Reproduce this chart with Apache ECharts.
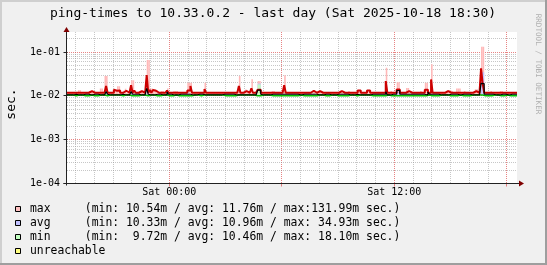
<!DOCTYPE html>
<html><head><meta charset="utf-8">
<script src="https://cdn.jsdelivr.net/npm/echarts@6/dist/echarts.min.js"></script>
<style>html,body{margin:0;padding:0;background:#f0f0f0}#c{width:547px;height:265px}</style>
</head><body><div id="c"></div><script>
// ---------- text ----------
const titleText = 'ping-times to 10.33.0.2 - last day (Sat 2025-10-18 18:30)';
const yUnitText = 'sec.';
const watermarkText = 'RRDTOOL / TOBI OETIKER';
const yTickLabels = ['1e-04', '1e-03', '1e-02', '1e-01'];
const xTickHours = [0, 12];
const xTickLabels = ['Sat 00:00', 'Sat 12:00'];
const legendLines = [
  'max     (min: 10.54m / avg: 11.76m / max:131.99m sec.)',
  'avg     (min: 10.33m / avg: 10.96m / max: 34.93m sec.)',
  'min     (min:  9.72m / avg: 10.46m / max: 18.10m sec.)',
  'unreachable'
];
const legendColors = ['#ffc0c0', '#c0c0ff', '#c0ffc0', '#ffff80'];

// ---------- time base (hours relative to Sat 00:00), 5-minute steps ----------
const startHour = -5.456;
const stepHours = 5 / 60;

// ---------- values in milliseconds, one per 5-minute step (288) ----------
const maxPeakMs = [
11.8,11.8,11.8,11.8,11.8,11.8,11.8,13.5,13.5,11.8,11.8,11.8,11.8,11.8,12.9,12.9,
11.8,11.8,11.8,11.8,11.8,14.8,14.8,11.8,28.5,28.5,11.8,11.8,11.8,11.8,13.8,13.1,
16.7,16.7,11.8,11.8,13.1,14.5,11.8,11.8,11.8,22.9,22.9,13.3,11.8,11.8,12.9,13.5,
11.8,11.8,11.8,65.7,65.7,14.8,14.8,14.0,14.0,13.5,11.8,11.8,13.0,13.0,11.8,11.8,
14.8,11.8,11.8,11.8,13.0,13.0,13.0,11.8,11.8,11.8,11.8,11.8,11.8,20.0,20.0,20.0,
11.8,11.8,11.8,11.8,11.8,11.8,11.8,11.8,20.0,11.8,11.8,11.8,11.8,11.8,11.8,11.8,
11.8,11.8,11.8,11.8,11.8,11.8,11.8,11.8,11.8,11.8,11.8,11.8,11.8,11.8,28.3,11.8,
11.8,11.8,14.0,11.8,11.8,11.8,24.1,11.8,11.8,11.8,21.8,21.8,11.8,11.8,11.8,11.8,
11.8,11.8,11.8,13.0,13.0,11.8,11.8,11.8,11.8,11.8,11.8,29.8,11.8,11.8,11.8,11.8,
11.8,11.8,11.8,11.8,11.8,11.8,11.8,11.8,11.8,11.8,11.8,11.8,11.8,13.1,13.1,11.8,
11.8,12.9,13.1,11.8,11.8,11.8,11.8,11.8,11.8,11.8,11.8,11.8,11.8,11.8,11.8,13.5,
11.8,11.8,11.8,11.8,13.0,11.8,11.8,11.8,11.8,11.8,13.3,13.3,11.8,11.8,11.8,11.8,
13.3,13.3,11.8,11.8,11.8,11.8,11.8,11.8,11.8,11.8,11.8,11.8,43.8,11.8,11.8,12.9,
11.8,11.8,11.8,20.5,20.5,11.8,11.8,11.8,11.8,15.2,15.2,11.8,11.8,11.8,11.8,11.8,
11.8,11.8,13.0,11.8,11.8,20.0,20.0,11.8,11.8,53.0,11.8,11.8,11.8,11.8,11.8,11.8,
11.8,11.8,11.8,13.5,13.5,13.5,12.9,11.8,11.8,14.8,14.8,14.8,11.8,11.8,12.9,11.8,
11.8,11.8,11.8,11.8,11.8,14.1,14.1,11.8,11.8,132.0,132.0,11.8,11.8,11.8,11.8,12.9,
11.8,11.8,11.8,11.8,11.8,13.0,13.0,11.8,11.8,11.8,11.8,11.8,11.8,11.8,11.8,11.8
];
const maxLineMs = [
11.8,11.8,11.8,11.8,11.8,11.8,11.8,11.8,13.1,11.8,11.8,11.8,11.8,11.8,12.9,12.9,
11.8,11.8,11.8,11.8,11.8,11.8,11.8,11.8,11.8,16.8,11.8,11.8,11.8,11.8,13.8,13.1,
13.5,13.3,11.8,11.8,13.1,13.1,11.8,11.8,11.8,17.6,11.8,13.3,11.8,11.8,12.9,12.9,
11.8,11.8,11.8,29.8,11.8,13.6,11.8,13.6,13.1,11.8,11.8,11.8,11.8,11.8,11.8,11.8,
13.3,11.8,11.8,11.8,11.8,11.8,11.8,11.8,11.8,11.8,11.8,11.8,11.8,13.2,13.2,16.8,
11.8,11.8,11.8,11.8,11.8,11.8,11.8,11.8,14.3,11.8,11.8,11.8,11.8,11.8,11.8,11.8,
11.8,11.8,11.8,11.8,11.8,11.8,11.8,11.8,11.8,11.8,11.8,11.8,11.8,11.8,16.8,11.8,
11.8,11.8,12.8,11.8,11.8,11.8,14.8,11.8,11.8,11.8,13.8,13.8,11.8,11.8,11.8,11.8,
11.8,11.8,11.8,11.8,11.8,11.8,11.8,11.8,11.8,11.8,11.8,17.6,11.8,11.8,11.8,11.8,
11.8,11.8,11.8,11.8,11.8,11.8,11.8,11.8,11.8,11.8,11.8,11.8,11.8,13.1,13.1,11.8,
11.8,12.9,13.1,11.8,11.8,11.8,11.8,11.8,11.8,11.8,11.8,11.8,11.8,11.8,11.8,12.8,
11.8,11.8,11.8,11.8,11.8,11.8,11.8,11.8,11.8,11.8,13.3,13.3,11.8,11.8,11.8,11.8,
13.3,13.3,11.8,11.8,11.8,11.8,11.8,11.8,11.8,11.8,11.8,11.8,21.8,11.8,11.8,12.9,
11.8,11.8,11.8,14.0,14.0,11.8,11.8,11.8,11.8,12.8,12.8,11.8,11.8,11.8,11.8,11.8,
11.8,11.8,11.8,11.8,11.8,13.8,13.8,11.8,11.8,23.8,11.8,11.8,11.8,11.8,11.8,11.8,
11.8,11.8,11.8,12.8,11.8,11.8,12.9,11.8,11.8,11.8,11.8,11.8,11.8,11.8,12.9,11.8,
11.8,11.8,11.8,11.8,11.8,12.9,12.9,11.8,11.8,42.4,19.3,11.8,11.8,11.8,11.8,12.9,
11.8,11.8,11.8,11.8,11.8,11.8,11.8,11.8,11.8,11.8,11.8,11.8,11.8,11.8,11.8,11.8
];
const avgPeakMs = [
10.5,10.5,10.5,10.5,10.9,10.9,10.9,10.5,10.5,10.5,10.5,10.9,10.9,10.9,10.5,10.5,
10.5,10.9,10.9,10.9,10.9,10.5,10.5,10.5,10.5,12.5,10.9,10.5,10.5,10.5,10.5,10.5,
10.5,10.5,10.9,10.9,10.9,10.5,10.5,10.5,10.5,12.5,10.9,10.9,10.9,10.9,10.5,10.5,
10.5,10.5,10.9,14.8,10.9,10.5,10.5,10.5,10.5,10.9,10.9,10.9,10.9,10.5,10.5,10.5,
12.3,10.9,10.9,10.9,10.5,10.5,10.5,10.9,10.9,10.9,10.9,10.9,10.9,12.0,10.9,10.9,
10.5,10.5,10.5,10.5,10.9,10.9,10.9,10.5,10.5,10.5,10.5,10.5,10.5,10.5,10.5,10.5,
10.5,10.5,10.5,10.5,10.9,10.9,10.9,10.9,10.9,10.9,10.9,10.9,10.5,10.5,10.5,10.5,
10.5,10.5,10.5,10.5,10.5,10.5,10.5,10.5,10.5,10.9,19.3,19.3,10.9,10.5,10.5,10.5,
10.5,10.5,10.9,10.9,10.9,10.9,10.9,10.9,10.9,10.9,10.9,10.9,10.9,10.9,10.9,10.9,
10.9,10.9,10.9,10.9,10.5,10.5,10.9,10.9,10.9,10.9,10.9,10.9,10.9,10.9,10.9,10.9,
10.5,10.5,10.5,10.5,10.5,10.9,10.9,10.9,10.9,10.5,10.5,10.5,10.9,10.9,10.9,10.9,
10.9,10.9,10.9,10.9,10.9,10.5,10.5,10.5,10.5,10.9,10.9,10.5,10.5,10.5,10.5,10.5,
10.5,10.5,10.5,10.9,10.9,10.9,10.9,10.9,10.9,10.9,10.9,10.9,12.5,10.5,10.5,10.9,
10.9,10.9,10.9,13.3,13.3,10.9,10.9,10.9,10.9,10.9,10.9,10.9,10.9,10.9,10.9,10.9,
10.9,10.9,10.9,10.9,10.9,10.9,10.5,12.3,10.9,10.9,10.9,10.9,10.9,10.9,10.9,10.5,
10.5,10.5,10.5,10.5,10.9,10.9,10.9,10.9,10.9,10.9,10.5,10.5,10.9,10.9,10.9,10.9,
10.9,10.9,10.9,10.5,10.5,10.5,10.5,10.5,10.5,34.9,34.9,10.9,10.9,10.9,10.9,10.9,
10.9,10.5,10.5,10.5,10.5,10.9,10.9,10.9,10.9,10.5,10.5,11.5,10.9,10.9,10.9,10.9
];
const avgLineMs = [
10.5,10.5,10.5,10.5,10.9,10.9,10.9,10.5,10.5,10.5,10.5,10.9,10.9,10.9,10.5,10.5,
10.5,10.9,10.9,10.9,10.9,10.5,10.5,10.5,10.5,12.5,10.9,10.5,10.5,10.5,10.5,10.5,
10.5,10.5,10.9,10.9,10.9,10.5,10.5,10.5,10.5,12.5,10.9,10.9,10.9,10.9,10.5,10.5,
10.5,10.5,10.9,14.8,10.9,10.5,10.5,10.5,10.5,10.9,10.9,10.9,10.9,10.5,10.5,10.5,
12.3,10.9,10.9,10.9,10.5,10.5,10.5,10.9,10.9,10.9,10.9,10.9,10.9,12.0,10.9,10.9,
10.5,10.5,10.5,10.5,10.9,10.9,10.9,10.5,10.5,10.5,10.5,10.5,10.5,10.5,10.5,10.5,
10.5,10.5,10.5,10.5,10.9,10.9,10.9,10.9,10.9,10.9,10.9,10.9,10.5,10.5,10.5,10.5,
10.5,10.5,10.5,10.5,10.5,10.5,10.5,10.5,10.5,10.9,13.5,13.5,10.9,10.5,10.5,10.5,
10.5,10.5,10.9,10.9,10.9,10.9,10.9,10.9,10.9,10.9,10.9,10.9,10.9,10.9,10.9,10.9,
10.9,10.9,10.9,10.9,10.5,10.5,10.9,10.9,10.9,10.9,10.9,10.9,10.9,10.9,10.9,10.9,
10.5,10.5,10.5,10.5,10.5,10.9,10.9,10.9,10.9,10.5,10.5,10.5,10.9,10.9,10.9,10.9,
10.9,10.9,10.9,10.9,10.9,10.5,10.5,10.5,10.5,10.9,10.9,10.5,10.5,10.5,10.5,10.5,
10.5,10.5,10.5,10.9,10.9,10.9,10.9,10.9,10.9,10.9,10.9,10.9,12.5,10.5,10.5,10.9,
10.9,10.9,10.9,13.3,13.3,10.9,10.9,10.9,10.9,10.9,10.9,10.9,10.9,10.9,10.9,10.9,
10.9,10.9,10.9,10.9,10.9,10.9,10.5,12.3,10.9,10.9,10.9,10.9,10.9,10.9,10.9,10.5,
10.5,10.5,10.5,10.5,10.9,10.9,10.9,10.9,10.9,10.9,10.5,10.5,10.9,10.9,10.9,10.9,
10.9,10.9,10.9,10.5,10.5,10.5,10.5,10.5,10.5,19.3,19.0,10.9,10.9,10.9,10.9,10.9,
10.9,10.5,10.5,10.5,10.5,10.9,10.9,10.9,10.9,10.5,10.5,11.5,10.9,10.9,10.9,10.9
];
const minPeakMs = [
10.5,10.5,10.5,10.5,10.1,10.1,10.1,10.5,10.5,10.5,10.5,10.1,10.1,10.1,10.5,10.5,
10.5,10.1,10.1,10.1,10.1,10.5,10.5,10.5,10.5,10.1,10.1,10.5,10.5,10.5,10.5,10.5,
10.5,10.5,10.1,10.1,10.1,10.5,10.5,10.5,10.5,10.1,10.1,10.1,10.1,10.1,10.5,10.5,
10.5,10.5,10.1,10.1,10.1,10.5,10.5,10.5,10.5,10.1,10.1,10.1,10.1,10.5,10.5,10.5,
10.1,10.1,10.1,10.1,10.5,10.5,10.5,10.1,10.1,10.1,10.1,10.1,10.1,10.1,10.1,10.1,
10.5,10.5,10.5,10.5,10.1,10.1,10.1,10.5,10.5,10.5,10.5,10.5,10.5,10.5,10.5,10.5,
10.5,10.5,10.5,10.5,10.1,10.1,10.1,10.1,10.1,10.1,10.1,10.1,10.5,10.5,10.5,10.5,
10.5,10.5,10.5,10.5,10.5,10.5,10.5,10.5,10.5,10.1,18.1,18.1,10.1,10.5,10.5,10.5,
10.5,10.5,10.1,10.1,10.1,10.1,10.1,10.1,10.1,10.1,10.1,10.1,10.1,10.1,10.1,10.1,
10.1,10.1,10.1,10.1,10.5,10.5,10.1,10.1,10.1,10.1,10.1,10.1,10.1,10.1,10.1,10.1,
10.5,10.5,10.5,10.5,10.5,10.1,10.1,10.1,10.1,10.5,10.5,10.5,10.1,10.1,10.1,10.1,
10.1,10.1,10.1,10.1,10.1,10.5,10.5,10.5,10.5,10.1,10.1,10.5,10.5,10.5,10.5,10.5,
10.5,10.5,10.5,10.1,10.1,10.1,10.1,10.1,10.1,10.1,10.1,10.1,10.1,10.5,10.5,10.1,
10.1,10.1,10.1,10.1,10.1,10.1,10.1,10.1,10.1,10.1,10.1,10.1,10.1,10.1,10.1,10.1,
10.1,10.1,10.1,10.1,10.1,10.1,10.5,10.5,10.1,10.1,10.1,10.1,10.1,10.1,10.1,10.5,
10.5,10.5,10.5,10.5,10.1,10.1,10.1,10.1,10.1,10.1,10.5,10.5,10.1,10.1,10.1,10.1,
10.1,10.1,10.1,10.5,10.5,10.5,10.5,10.5,10.5,10.5,10.1,10.1,10.1,10.1,10.1,10.1,
10.1,10.5,10.5,10.5,10.5,10.1,10.1,10.1,10.1,10.5,10.5,10.1,10.1,10.1,10.1,10.1
];
const minLineMs = [
10.5,10.5,10.5,10.5,10.1,10.1,10.1,10.5,10.5,10.5,10.5,10.1,10.1,10.1,10.5,10.5,
10.5,10.1,10.1,10.1,10.1,10.5,10.5,10.5,10.5,10.1,10.1,10.5,10.5,10.5,10.5,10.5,
10.5,10.5,10.1,10.1,10.1,10.5,10.5,10.5,10.5,10.1,10.1,10.1,10.1,10.1,10.5,10.5,
10.5,10.5,10.1,10.1,10.1,10.5,10.5,10.5,10.5,10.1,10.1,10.1,10.1,10.5,10.5,10.5,
10.1,10.1,10.1,10.1,10.5,10.5,10.5,10.1,10.1,10.1,10.1,10.1,10.1,10.1,10.1,10.1,
10.5,10.5,10.5,10.5,10.1,10.1,10.1,10.5,10.5,10.5,10.5,10.5,10.5,10.5,10.5,10.5,
10.5,10.5,10.5,10.5,10.1,10.1,10.1,10.1,10.1,10.1,10.1,10.1,10.5,10.5,10.5,10.5,
10.5,10.5,10.5,10.5,10.5,10.5,10.5,10.5,10.5,10.1,10.1,10.1,10.1,10.5,10.5,10.5,
10.5,10.5,10.1,10.1,10.1,10.1,10.1,10.1,10.1,10.1,10.1,10.1,10.1,10.1,10.1,10.1,
10.1,10.1,10.1,10.1,10.5,10.5,10.1,10.1,10.1,10.1,10.1,10.1,10.1,10.1,10.1,10.1,
10.5,10.5,10.5,10.5,10.5,10.1,10.1,10.1,10.1,10.5,10.5,10.5,10.1,10.1,10.1,10.1,
10.1,10.1,10.1,10.1,10.1,10.5,10.5,10.5,10.5,10.1,10.1,10.5,10.5,10.5,10.5,10.5,
10.5,10.5,10.5,10.1,10.1,10.1,10.1,10.1,10.1,10.1,10.1,10.1,10.1,10.5,10.5,10.1,
10.1,10.1,10.1,10.1,10.1,10.1,10.1,10.1,10.1,10.1,10.1,10.1,10.1,10.1,10.1,10.1,
10.1,10.1,10.1,10.1,10.1,10.1,10.5,10.5,10.1,10.1,10.1,10.1,10.1,10.1,10.1,10.5,
10.5,10.5,10.5,10.5,10.1,10.1,10.1,10.1,10.1,10.1,10.5,10.5,10.1,10.1,10.1,10.1,
10.1,10.1,10.1,10.5,10.5,10.5,10.5,10.5,10.5,10.5,10.1,10.1,10.1,10.1,10.1,10.1,
10.1,10.5,10.5,10.5,10.5,10.1,10.1,10.1,10.1,10.5,10.5,10.1,10.1,10.1,10.1,10.1
];

// ---------- styling ----------
const FONT = '"DejaVu Sans Mono", monospace';
const COL = {
  back: '#f0f0f0', canvas: '#ffffff', shadeA: '#cfcfcf', shadeB: '#9e9e9e',
  grid: 'rgba(143,143,143,0.5)', mgrid: 'rgba(222,79,79,0.7)',
  axis: '#222222', arrow: '#7f0000',
  maxArea: '#ffb8b8', avgArea: '#c0c0ff', minArea: '#c0ffc0',
  maxLine: '#cc0000', avgLine: '#000000', minLine: '#00c000'
};
const Y_MIN = 1e-4, Y_MAX = 0.2877;
const endHour = startHour + maxLineMs.length * stepHours;

function toPts(ms) {
  const d = ms.map((v, i) => [startHour + i * stepHours, v / 1000]);
  d.push([endHour, ms[ms.length - 1] / 1000]);
  return d;
}
// band rows: [time, low, high] in seconds
function bandRows(hi, lo) {
  return hi.map((v, i) => [startHour + i * stepHours, lo[i] / 1000, v / 1000]);
}
function bandSeries(name, hi, lo, color) {
  return {
    type: 'custom', name: name, silent: true, animation: false, clip: true,
    encode: {x: 0, y: [1, 2]},
    data: bandRows(hi, lo),
    renderItem: (params, api) => {
      const t = api.value(0), lo = api.value(1), hi = api.value(2);
      if (!(hi > lo)) return null;
      const a = api.coord([t, hi]);
      const b = api.coord([t + stepHours, lo]);
      return {type: 'rect', shape: {x: a[0], y: a[1], width: b[0] - a[0], height: b[1] - a[1]}, style: {fill: color}};
    }
  };
}

const chart = echarts.init(document.getElementById('c'), null, {renderer: 'canvas', width: 547, height: 265});
const lineBase = {type: 'line', step: 'end', symbol: 'none', showSymbol: false, silent: true, animation: false};

chart.setOption({
  animation: false,
  backgroundColor: COL.back,
  grid: {left: 67, top: 32, width: 450, height: 151.5, show: true, backgroundColor: COL.canvas, borderWidth: 0},
  xAxis: {
    type: 'value', min: startHour, max: endHour,
    axisLine: {show: false}, axisTick: {show: false}, splitLine: {show: false},
    axisLabel: {
      customValues: xTickHours,
      formatter: v => { const k = xTickHours.indexOf(Math.round(v)); return k >= 0 ? xTickLabels[k] : ''; },
      fontFamily: FONT, fontSize: 10, color: '#000', margin: 4
    }
  },
  yAxis: {
    type: 'log', logBase: 10, min: Y_MIN, max: Y_MAX,
    axisLine: {show: false}, axisTick: {show: false}, splitLine: {show: false}, minorSplitLine: {show: false},
    axisLabel: {
      showMaxLabel: false,
      formatter: v => { const e = Math.log10(v); const r = Math.round(e); return Math.abs(e - r) < 1e-6 ? (yTickLabels[r + 4] || '') : ''; },
      fontFamily: FONT, fontSize: 10, color: '#000', margin: 7
    }
  },
  series: [
    bandSeries('max', maxPeakMs, avgLineMs, COL.maxArea),
    bandSeries('avg', avgPeakMs, minLineMs, COL.avgArea),
    bandSeries('min', minPeakMs, minLineMs, COL.minArea),
    Object.assign({}, lineBase, {data: toPts(minLineMs), lineStyle: {color: COL.minLine, width: 1.5}}),
    Object.assign({}, lineBase, {data: toPts(maxLineMs), lineStyle: {color: COL.maxLine, width: 2}}),
    Object.assign({}, lineBase, {data: toPts(avgLineMs), lineStyle: {color: COL.avgLine, width: 1.2}})
  ]
});

// ---------- decorations (grid, axes, arrows, texts) derived from the chart scales ----------
const px = (x, y) => chart.convertToPixel({gridIndex: 0}, [x, y]);
const L = px(startHour, Y_MIN)[0], R = px(endHour, Y_MIN)[0];
const B = px(startHour, Y_MIN)[1], T = px(startHour, Y_MAX)[1];
const els = [];
function line(x1, y1, x2, y2, stroke, dash, z) {
  els.push({type: 'line', z: z, silent: true, shape: {x1, y1, x2, y2}, style: {stroke, lineWidth: 1, lineDash: dash || null}});
}
function text(x, y, str, font, fill, align, rot, z) {
  els.push({type: 'text', x, y, rotation: rot || 0, z: z || 10, silent: true,
    style: {text: str, font, fill, align: align, verticalAlign: 'middle', textAlign: align, textVerticalAlign: 'middle'}});
}
const bottomRow = Math.floor(B) + 0.5;
const axisCol = Math.floor(L - 0.5) + 0.5;
for (let h = Math.ceil(startHour); h <= Math.floor(endHour); h++) {
  const x = Math.floor(px(h, Y_MIN)[0]) + 0.5;
  const major = ((h % 6) + 6) % 6 === 0;
  line(x, T, x, B, major ? COL.mgrid : COL.grid, [1, 1], 1);
  if (major) line(x, bottomRow, x, bottomRow + 3, COL.mgrid, null, 5);
}
for (let e = -4; e <= -1; e++) {
  for (let k = 1; k <= 9; k++) {
    const v = k * Math.pow(10, e);
    if (v <= Y_MIN * 1.0001 || v >= Y_MAX) continue;
    const y = Math.floor(px(startHour, v)[1]) + 0.5;
    line(L, y, R, y, k === 1 ? COL.mgrid : COL.grid, [1, 1], 1);
  }
}
for (let e = -4; e <= -1; e++) {
  const y = Math.floor(px(startHour, Math.pow(10, e))[1]) + 0.5;
  line(axisCol - 3, y, axisCol + 1, y, COL.axis, null, 5);
}
line(axisCol - 3, bottomRow, R + 2, bottomRow, COL.axis, null, 5);
line(axisCol, B + 2, axisCol, T - 1, COL.axis, null, 5);
els.push({type: 'polygon', z: 6, silent: true, shape: {points: [[axisCol, T - 5], [axisCol - 3, T], [axisCol + 3, T]]}, style: {fill: COL.arrow}});
els.push({type: 'polygon', z: 6, silent: true, shape: {points: [[R + 7, bottomRow], [R + 2, bottomRow - 3], [R + 2, bottomRow + 3]]}, style: {fill: COL.arrow}});
els.push({type: 'rect', z: 20, silent: true, shape: {x: 0, y: 0, width: 2, height: 265}, style: {fill: COL.shadeA}});
els.push({type: 'rect', z: 20, silent: true, shape: {x: 0, y: 0, width: 547, height: 2}, style: {fill: COL.shadeA}});
els.push({type: 'rect', z: 21, silent: true, shape: {x: 545, y: 0, width: 2, height: 265}, style: {fill: COL.shadeB}});
els.push({type: 'rect', z: 21, silent: true, shape: {x: 0, y: 263, width: 547, height: 2}, style: {fill: COL.shadeB}});
text(273, 14, titleText, '13px ' + FONT, '#000', 'center');
text(12, 104, yUnitText, '13px ' + FONT, '#000', 'center', Math.PI / 2);
text(538, 64, watermarkText, '7.6px ' + FONT, '#b0b0b0', 'center', -Math.PI / 2);
legendLines.forEach((s, i) => {
  const yc = 209 + i * 14;
  els.push({type: 'rect', z: 10, silent: true, shape: {x: 15.5, y: Math.round(yc) - 2.5, width: 5, height: 5},
    style: {fill: legendColors[i], stroke: '#000', lineWidth: 1}});
  text(30, yc, s, '11.4px ' + FONT, '#000', 'left');
});
chart.setOption({graphic: {elements: els}});
</script></body></html>
